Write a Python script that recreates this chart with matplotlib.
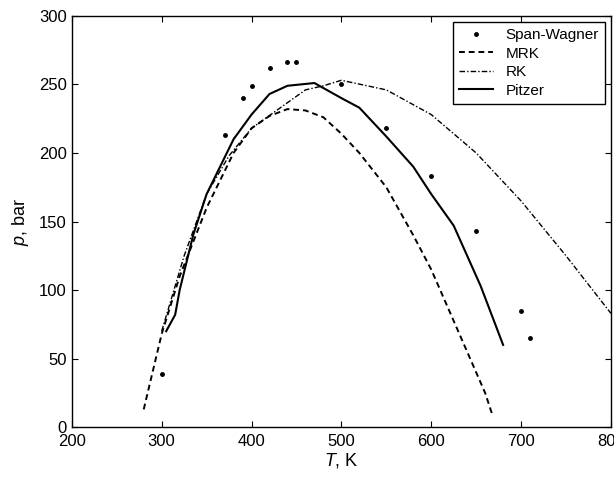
import numpy as np
import matplotlib
matplotlib.use("Agg")
import matplotlib.pyplot as plt

plt.rcParams['font.family'] = ['Liberation Sans', 'DejaVu Sans']
plt.rcParams['mathtext.fontset'] = 'custom'
plt.rcParams['mathtext.it'] = 'Liberation Sans:italic'

# Span-Wagner reference points
sw_T = [300, 370, 390, 400, 420, 440, 450, 500, 550, 600, 650, 700, 710]
sw_p = [39, 213, 240, 249, 262, 266, 266, 250, 218, 183, 143, 85, 65]

# MRK
mrk_T = [280, 300, 320, 350, 380, 400, 420, 440, 460, 480, 500, 520, 550, 580, 600, 620, 640, 660, 668]
mrk_p = [13, 68, 110, 160, 200, 218, 227, 232, 231, 226, 214, 200, 175, 140, 115, 85, 55, 25, 9]

# RK
rk_T = [300, 325, 350, 375, 400, 430, 460, 480, 500, 550, 600, 650, 700, 750, 800]
rk_p = [70, 125, 170, 198, 218, 232, 246, 249, 253, 246, 228, 200, 165, 125, 83]

# Pitzer
pz_T = [305, 315, 320, 335, 350, 380, 400, 420, 440, 470, 500, 520, 550, 580, 600, 625, 655, 680]
pz_p = [70, 82, 100, 140, 170, 210, 228, 243, 249, 251, 240, 233, 212, 190, 170, 147, 103, 60]

fig = plt.figure(figsize=(6.14, 4.8), dpi=100)
ax = fig.add_axes([0.117, 0.110, 0.878, 0.857])

ax.plot(sw_T, sw_p, 'k.', markersize=5, label='Span-Wagner')
ax.plot(mrk_T, mrk_p, 'k--', linewidth=1.4, dashes=(3, 2), label='MRK')
ax.plot(rk_T, rk_p, 'k-.', linewidth=1.0, dashes=(4, 1.5, 1, 1.5), label='RK')
ax.plot(pz_T, pz_p, 'k-', linewidth=1.5, label='Pitzer')

ax.set_xlim(200, 800)
ax.set_ylim(0, 300)
ax.set_xticks(np.arange(200, 801, 100))
ax.set_yticks(np.arange(0, 301, 50))
ax.tick_params(direction='in', top=True, right=True, labelsize=12, length=4)
ax.tick_params(axis='x', pad=5)
for s in ax.spines.values():
    s.set_linewidth(1.0)

ax.set_xlabel('$T$, K', fontsize=13, labelpad=1)
ax.set_ylabel('$p$, bar', fontsize=13, labelpad=6)

leg = ax.legend(loc='upper right', fontsize=11, fancybox=False, framealpha=1,
                edgecolor='black', handlelength=2.2, borderaxespad=0.4, labelspacing=0.3)
leg.get_frame().set_linewidth(1.0)

fig.savefig('out.png', dpi=100)
